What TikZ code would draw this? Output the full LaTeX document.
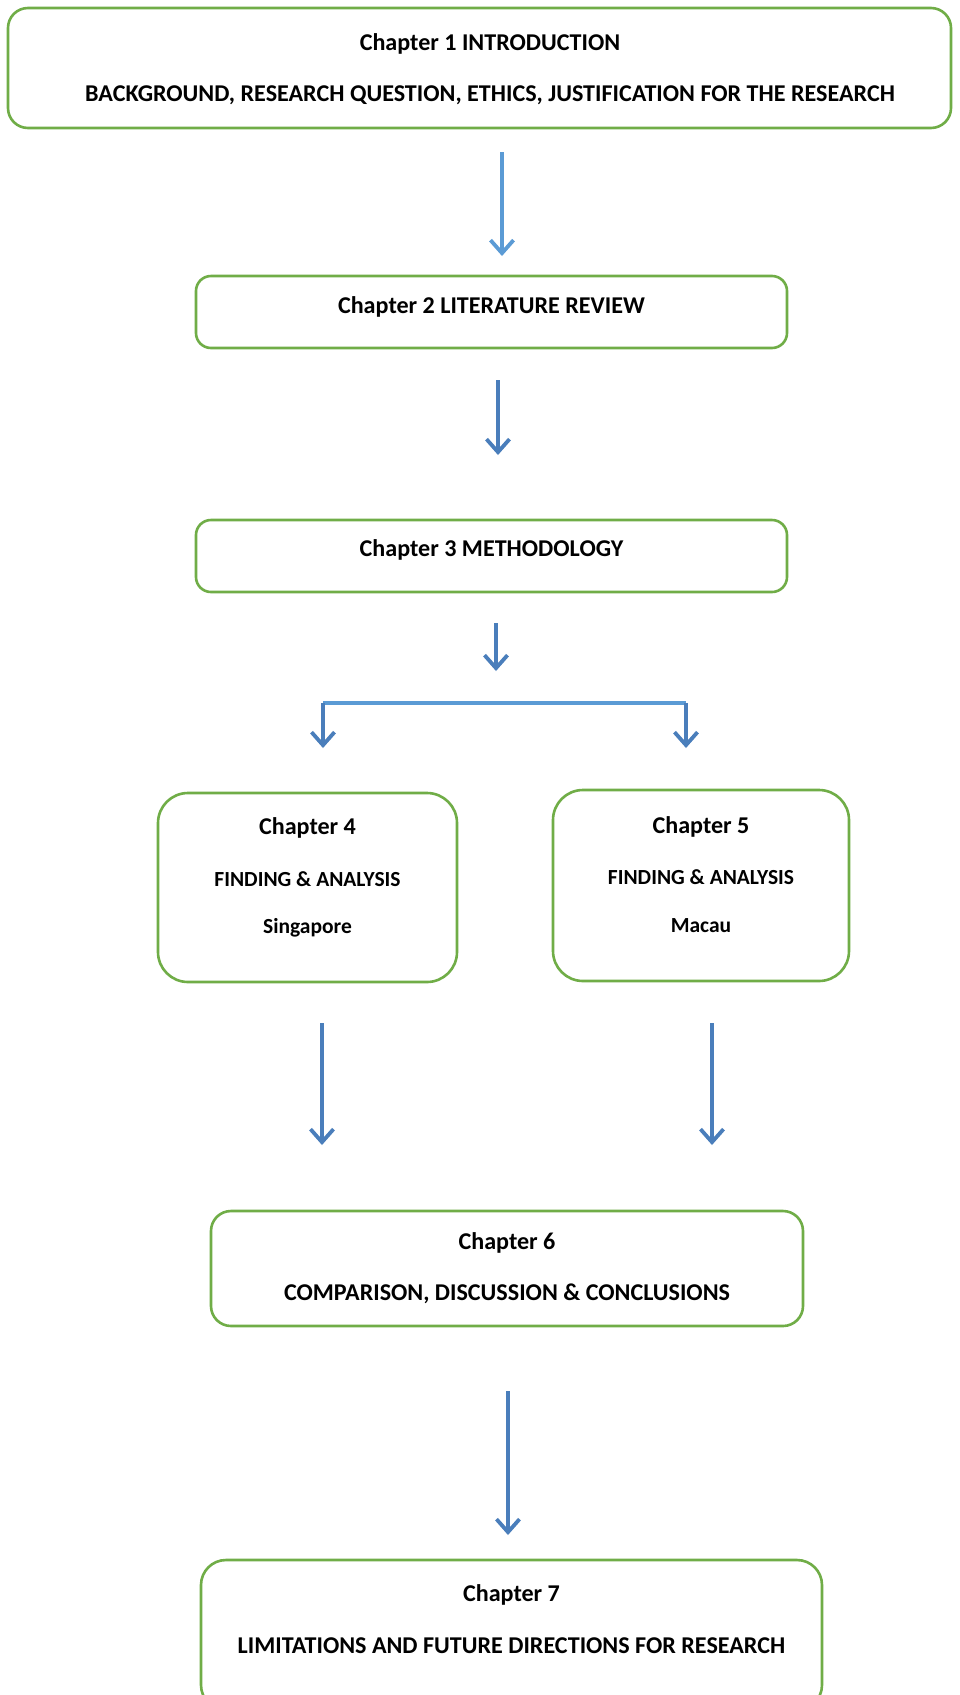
\documentclass[tikz,border=0pt]{standalone}
\usepackage{fontspec}
\setmainfont{Carlito}
\usetikzlibrary{arrows.meta}
\definecolor{boxgreen}{RGB}{112,173,71}
\definecolor{arrowblue}{RGB}{74,126,187}
\definecolor{lightblue}{RGB}{91,155,213}
\tikzset{
  chbox/.style={draw=boxgreen, line width=2.6pt, rounded corners=#1, fill=white, inner sep=0pt},
  chbox/.default=18pt,
  big/.style={font=\fontsize{24.1}{28}\selectfont\bfseries, inner sep=0pt},
  small/.style={font=\fontsize{21.5}{25}\selectfont\bfseries, inner sep=0pt},
  arr/.style={draw=arrowblue, line width=3.8pt, -{Straight Barb[length=13pt,width=23pt,line width=3.8pt]}},
  arrlight/.style={arr, draw=lightblue},
}
\begin{document}
\begin{tikzpicture}[x=1pt,y=-1pt]
\clip (0,0) rectangle (960,1695);
\fill[white] (0,0) rectangle (960,1695);

% boxes
\node[chbox=20pt, minimum width=943pt, minimum height=120pt] (b1) at (479.5,68) {};
\node[big] (t1a) at (490,44) {Chapter 1 INTRODUCTION};
\node[big] (t1b) at (490,95) {BACKGROUND, RESEARCH QUESTION, ETHICS, JUSTIFICATION FOR THE RESEARCH};

\node[chbox=15pt, minimum width=591pt, minimum height=72pt] (b2) at (491.5,312) {};
\node[big] (t2) at (491.5,307) {Chapter 2 LITERATURE REVIEW};

\node[chbox=15pt, minimum width=591pt, minimum height=72pt] (b3) at (491.5,556) {};
\node[big] (t3) at (491.5,550) {Chapter 3 METHODOLOGY};

\node[chbox=30pt, minimum width=299pt, minimum height=189pt] (b4) at (307.5,887.5) {};
\node[big] (t4a) at (307.5,828) {Chapter 4};
\node[small] (t4b) at (307.5,879) {FINDING \& ANALYSIS};
\node[small] (t4c) at (307.5,928) {Singapore};

\node[chbox=30pt, minimum width=296pt, minimum height=191pt] (b5) at (701,885.5) {};
\node[big] (t5a) at (701,827) {Chapter 5};
\node[small] (t5b) at (701,877) {FINDING \& ANALYSIS};
\node[small] (t5c) at (701,926) {Macau};

\node[chbox=20pt, minimum width=592pt, minimum height=115pt] (b6) at (507,1268.5) {};
\node[big] (t6a) at (507,1243) {Chapter 6};
\node[big] (t6b) at (507,1294) {COMPARISON, DISCUSSION \& CONCLUSIONS};

\node[chbox=25pt, minimum width=621pt, minimum height=150pt] (b7) at (511.5,1635) {};
\node[big] (t7a) at (511.5,1595) {Chapter 7};
\node[big] (t7b) at (511.5,1646) {LIMITATIONS AND FUTURE DIRECTIONS FOR RESEARCH};

% arrow coordinates
\coordinate (a1s) at (502,152);  \coordinate (a1e) at (502,256);
\coordinate (a2s) at (498,380);  \coordinate (a2e) at (498,455);
\coordinate (a3s) at (496,623);  \coordinate (a3e) at (496,671);
\coordinate (brl) at (323,703);  \coordinate (brr) at (686,703);
\coordinate (bll) at (323,748);  \coordinate (blr) at (686,748);
\coordinate (a4s) at (322,1023); \coordinate (a4e) at (322,1145);
\coordinate (a5s) at (712,1023); \coordinate (a5e) at (712,1145);
\coordinate (a6s) at (508,1391); \coordinate (a6e) at (508,1535);

\draw[arrlight] (a1s) -- (a1e);
\draw[arr] (a2s) -- (a2e);
\draw[arr] (a3s) -- (a3e);
\draw[draw=lightblue, line width=3.8pt] (brl) -- (brr);
\draw[arr] (brl) -- (bll);
\draw[arr] (brr) -- (blr);
\draw[arr] (a4s) -- (a4e);
\draw[arr] (a5s) -- (a5e);
\draw[arr] (a6s) -- (a6e);
\end{tikzpicture}
\end{document}
